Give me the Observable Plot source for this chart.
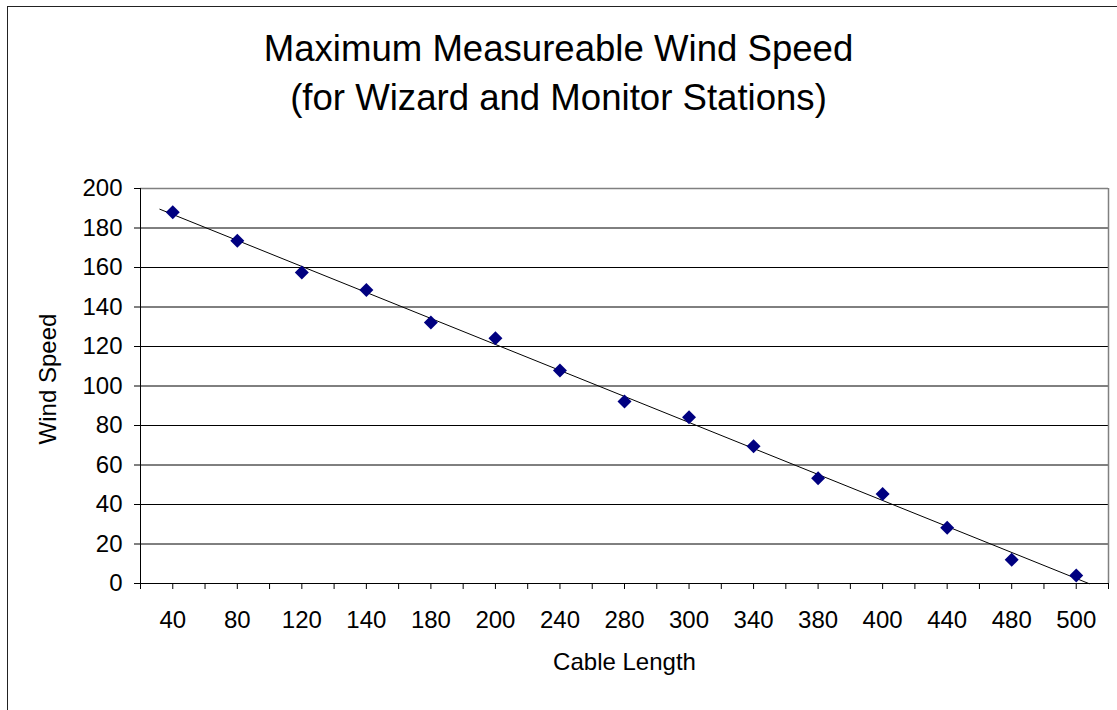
<!DOCTYPE html>
<html>
<head>
<meta charset="utf-8">
<script src="https://cdn.jsdelivr.net/npm/d3@7"></script>
<script src="https://cdn.jsdelivr.net/npm/@observablehq/plot@0.6"></script>
<style>
  html, body { margin: 0; padding: 0; background: #fff; overflow: hidden; }
  #wrap { position: relative; width: 1117px; height: 710px; font-family: "Liberation Sans", Arial, sans-serif; }
  #border { position: absolute; left: 7px; top: 6px; width: 1200px; height: 800px;
            border-left: 1.5px solid #222; border-top: 1.5px solid #222; box-sizing: border-box; }
  #chart { position: absolute; left: 0; top: 0; }
  #title { position: absolute; left: 0; top: 24px; width: 1117px; text-align: center;
           font-size: 36.6px; line-height: 49px; color: #000; }
</style>
</head>
<body>
<div id="wrap">
  <div id="border"></div>
  <div id="chart"></div>
  <div id="title"></div>
</div>
<script>
const titleLines = ["Maximum Measureable Wind Speed", "(for Wizard and Monitor Stations)"];
const xLabel = "Cable Length";
const yLabel = "Wind Speed";
const categories = ["40","80","120","140","180","200","240","280","300","340","380","400","440","480","500"];
const windSpeed = [188, 173.5, 157.5, 148.6, 132.2, 124.2, 107.9, 92.2, 84.2, 69.5, 53.3, 45.3, 28.2, 12, 4];
const yTicks = [0, 20, 40, 60, 80, 100, 120, 140, 160, 180, 200];

document.getElementById("title").innerHTML = titleLines.map(t => `<div>${t}</div>`).join("");

const data = categories.map((c, i) => ({i, c, v: windSpeed[i]}));
const n = data.length;
const mx = d3.mean(data, d => d.i), my = d3.mean(data, d => d.v);
const slope = d3.sum(data, d => (d.i - mx) * (d.v - my)) / d3.sum(data, d => (d.i - mx) ** 2);
const intercept = my - slope * mx;
const trend = [-0.2, n - 1 + 0.2].map(x => ({x, y: intercept + slope * x}));
const halfTicks = d3.range(-0.5, n, 0.5);
const yMax = yTicks[yTicks.length - 1];

const chart = Plot.plot({
  width: 1117,
  height: 710,
  marginLeft: 140,
  marginRight: 9,
  marginTop: 188,
  marginBottom: 127,
  x: {type: "linear", domain: [-0.5, n - 0.5]},
  y: {domain: [0, yMax]},
  style: {fontFamily: '"Liberation Sans", Arial, sans-serif', fontSize: "24px", color: "#000", background: "transparent", overflow: "visible"},
  marks: [
    Plot.gridY(yTicks.filter(d => d > 0 && d < yMax), {stroke: "#000", strokeOpacity: 1}),
    Plot.ruleY([yMax], {stroke: "#808080", strokeWidth: 1.5}),
    Plot.ruleX([n - 0.5], {stroke: "#808080", strokeWidth: 1.5}),
    Plot.ruleY([0], {stroke: "#000"}),
    Plot.ruleX([-0.5], {stroke: "#000"}),
    Plot.axisY({ticks: yTicks, tickSize: 6, tickPadding: 12, label: null, stroke: "#000"}),
    Plot.axisX({ticks: halfTicks, tickSize: 6, tickFormat: () => "", label: null, stroke: "#000"}),
    Plot.axisX({ticks: d3.range(n), tickSize: 0, tickPadding: 27, tickFormat: i => categories[i], label: null}),
    Plot.text([xLabel], {frameAnchor: "bottom", dy: 86, fontSize: 24}),
    Plot.text([yLabel], {frameAnchor: "left", textAnchor: "middle", dx: -92, dy: -7, rotate: -90, fontSize: 24}),
    Plot.line(trend, {x: "x", y: "y", stroke: "#000", strokeWidth: 1}),
    Plot.dot(data, {x: "i", y: "v", symbol: "diamond2", r: 6.3, fill: "#000080", stroke: "none"})
  ]
});
document.getElementById("chart").appendChild(chart);
</script>
</body>
</html>
